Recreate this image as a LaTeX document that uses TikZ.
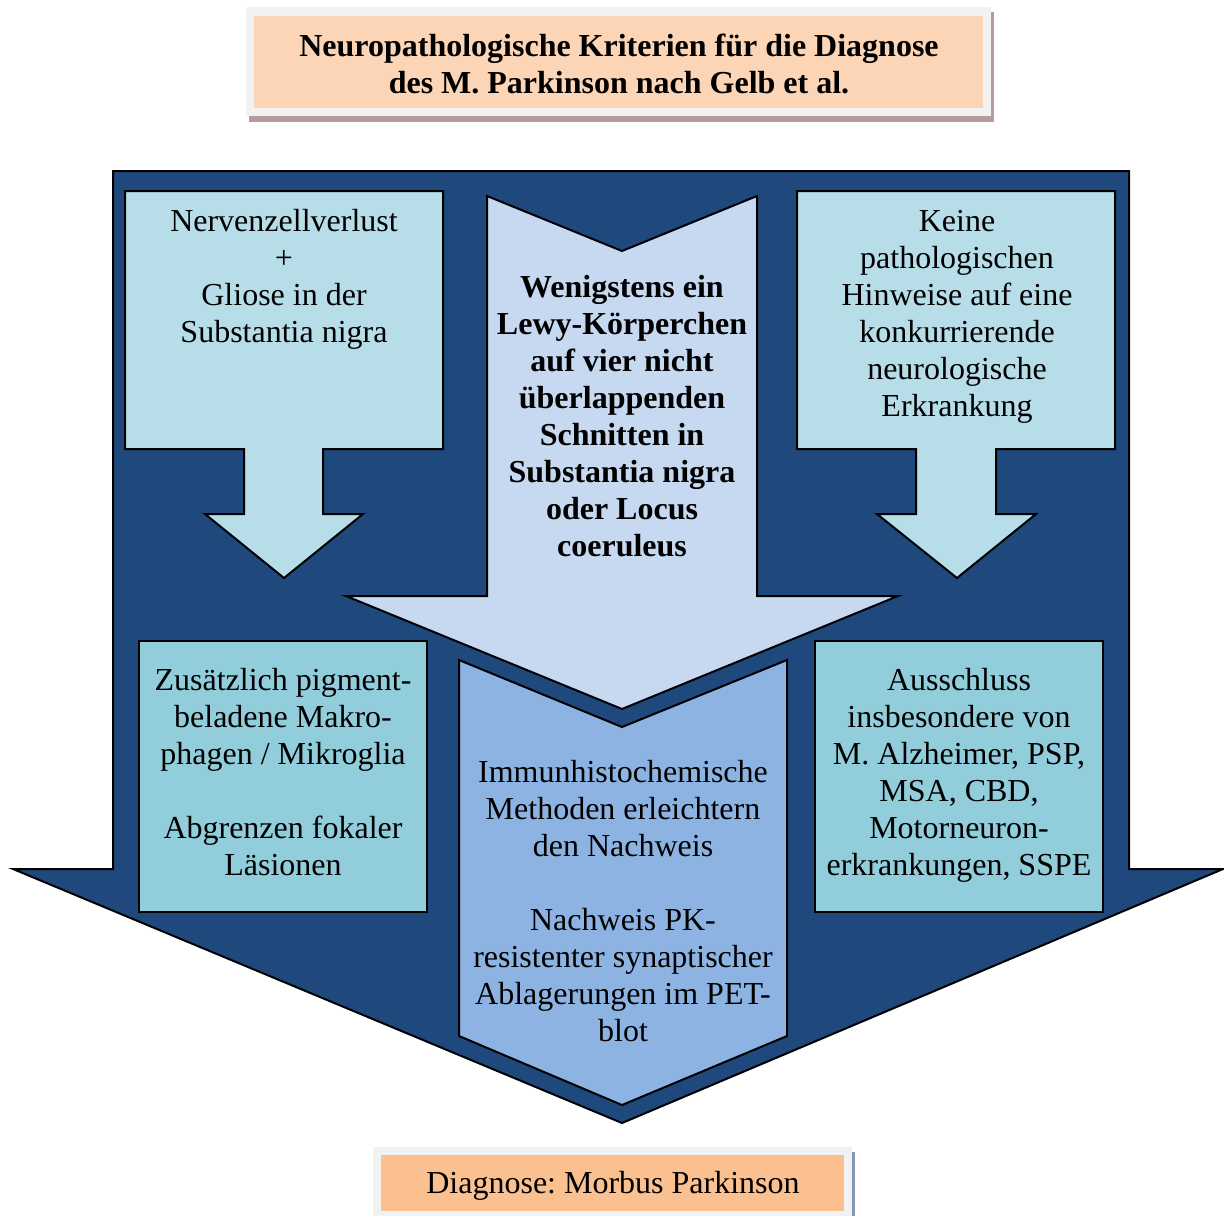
\documentclass[tikz,border=0pt]{standalone}
\usepackage{fontspec}
\setmainfont{Liberation Serif}
\usetikzlibrary{positioning}
\frenchspacing

\definecolor{darkblue}{HTML}{1F497D}
\definecolor{lightblue}{HTML}{B7DDE8}
\definecolor{paleblue}{HTML}{C6D9F1}
\definecolor{midblue}{HTML}{92CDDC}
\definecolor{skyblue}{HTML}{8DB3E2}
\definecolor{peach}{HTML}{FBD5B5}
\definecolor{apricot}{HTML}{FAC08F}
\definecolor{framegray}{HTML}{F2F2F2}
\definecolor{shadowrose}{HTML}{B69A9D}
\definecolor{edgeblue}{HTML}{8497B0}

\begin{document}
\begin{tikzpicture}[x=0.5pt,y=-0.5pt,
    outline/.style={draw=black,line width=1pt,line join=miter},
    txt/.style={align=center,font=\fontsize{16}{18.5}\selectfont,inner sep=0pt}]
   \useasboundingbox (0,0) rectangle (1224,1216);

   % title
   \fill[shadowrose] (249,12) rectangle (994,122);
   \fill[framegray] (246,7) rectangle (991,116);
   \fill[peach] (254,16) rectangle (983,108);
   \node[txt,font=\fontsize{16}{18.5}\selectfont\bfseries] (title) at (619,64)
     {Neuropathologische Kriterien für die Diagnose\\des M. Parkinson nach Gelb et al.};

   % big arrow
   \draw[outline,fill=darkblue] (113,171) -- (1129,171) -- (1129,869) -- (1223,869)
     -- (622,1123) -- (13,869) -- (113,869) -- cycle;

   % upper boxes with small arrows
   \draw[outline,fill=lightblue] (125,191) -- (443,191) -- (443,449) -- (323,449)
     -- (323,514) -- (363,514) -- (284,578) -- (205,514) -- (244,514) -- (244,449)
     -- (125,449) -- cycle;
   \draw[outline,fill=lightblue] (797,191) -- (1115,191) -- (1115,449) -- (996,449)
     -- (996,514) -- (1036,514) -- (957,578) -- (877,514) -- (916,514) -- (916,449)
     -- (797,449) -- cycle;

   % middle arrow
   \draw[outline,fill=paleblue] (487,196) -- (622,251) -- (757,196) -- (757,596)
     -- (898,596) -- (622,709) -- (346,596) -- (487,596) -- cycle;

   % lower boxes
   \draw[outline,fill=midblue] (139,641) rectangle (427,912);
   \draw[outline,fill=midblue] (815,641) rectangle (1103,912);
   \draw[outline,fill=skyblue] (459,660) -- (622,727) -- (787,660) -- (787,1036)
     -- (622,1105) -- (459,1036) -- cycle;

   % texts
   \node[txt] (loss) at (284,279)
     {Nervenzellverlust\\+\\Gliose in der\\Substantia nigra};
   \node[txt] (nohint) at (957,317)
     {Keine\\pathologischen\\Hinweise auf eine\\konkurrierende\\neurologische\\Erkrankung};
   \node[txt,font=\fontsize{16}{18.5}\selectfont\bfseries] (lewy) at (622,416)
     {Wenigstens ein\\Lewy-Körperchen\\auf vier nicht\\überlappenden\\Schnitten in\\Substantia nigra\\oder Locus\\coeruleus};
   \node[txt] (pigment) at (283,772)
     {Zusätzlich pigment-\\beladene Makro-\\phagen / Mikroglia\\[18.5pt]Abgrenzen fokaler\\Läsionen};
   \node[txt] (immuno) at (623,901)
     {Immunhistochemische\\Methoden erleichtern\\den Nachweis\\[18.5pt]Nachweis PK-\\resistenter synaptischer\\Ablagerungen im PET-\\blot};
   \node[txt] (exclude) at (959,775)
     {Ausschluss\\insbesondere von\\M. Alzheimer, PSP,\\MSA, CBD,\\Motorneuron-\\erkrankungen, SSPE};

   % diagnosis
   \fill[framegray] (373,1147) rectangle (852,1216);
   \fill[apricot] (381,1155) rectangle (844,1211);
   \draw[edgeblue,line width=1.5pt] (853,1152) -- (853,1216);
   \node[txt] (diag) at (613,1186) {Diagnose: Morbus Parkinson};
\end{tikzpicture}
\end{document}
